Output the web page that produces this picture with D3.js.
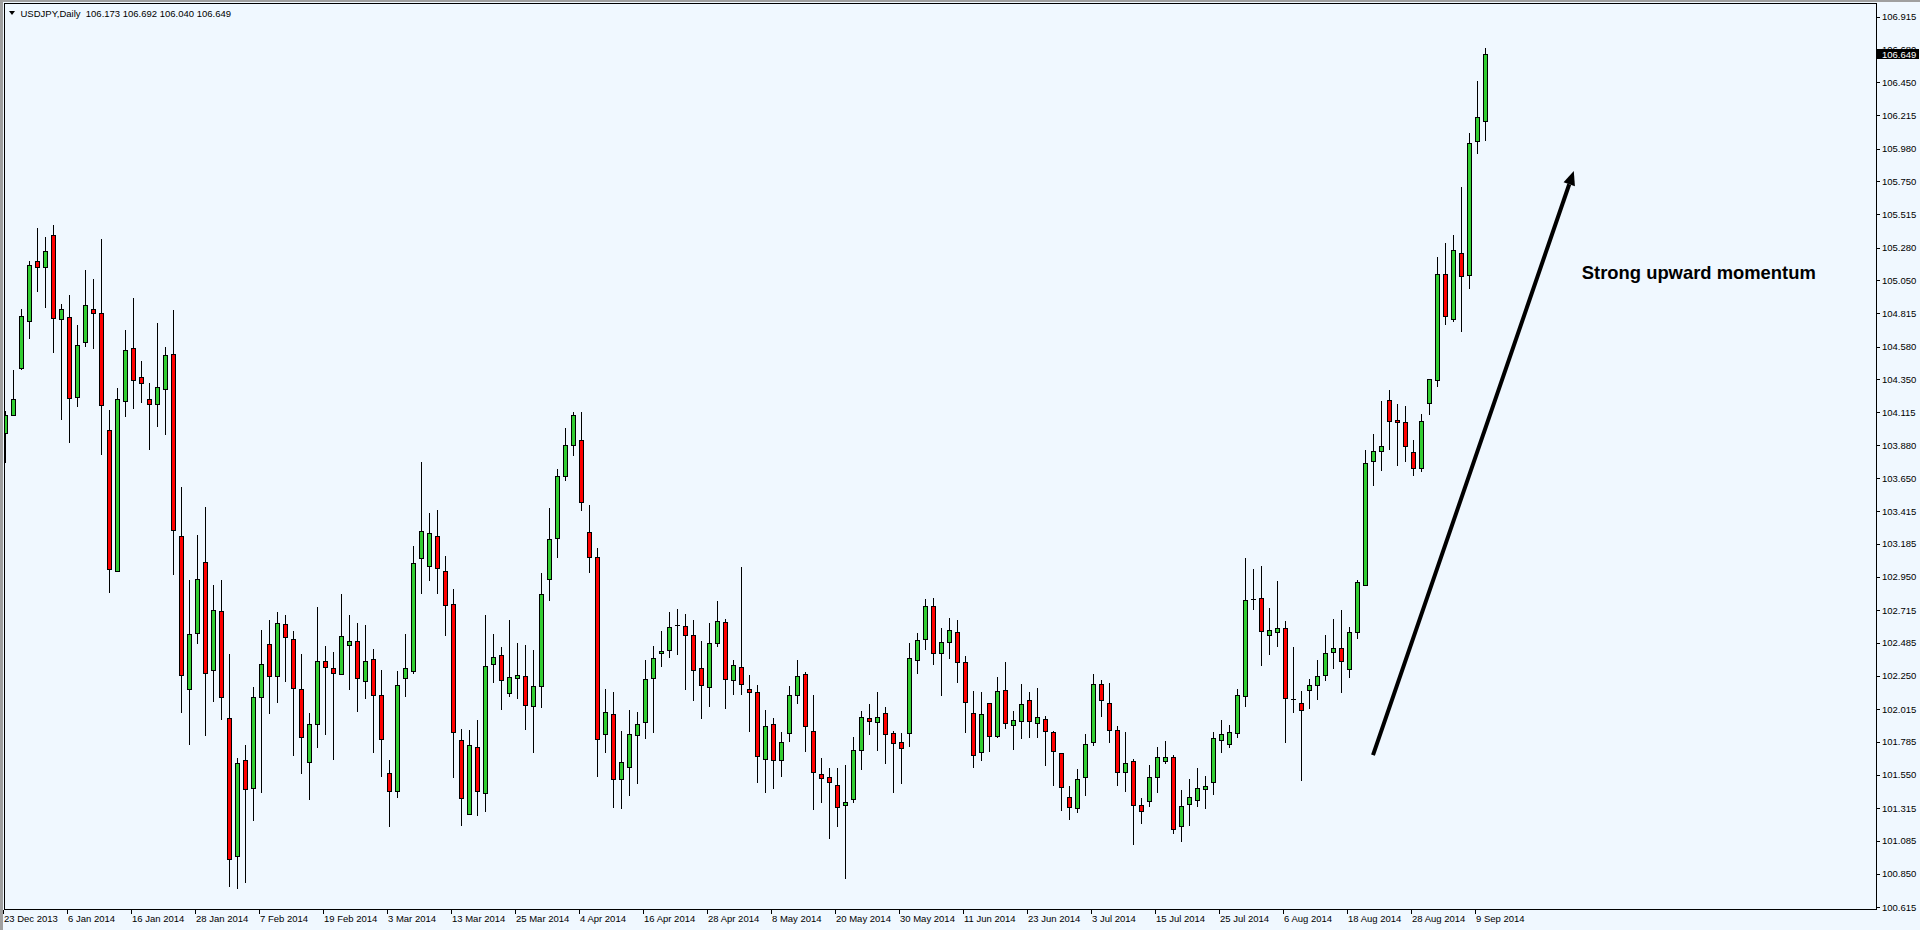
<!DOCTYPE html>
<html><head><meta charset="utf-8">
<script src="https://cdn.jsdelivr.net/npm/d3@7/dist/d3.min.js"></script>
<style>
html,body{margin:0;padding:0;background:#F0F8FF;overflow:hidden}
svg{display:block}
text{font-family:"Liberation Sans",Arial,sans-serif}
</style></head><body>
<svg id="c" width="1920" height="930"></svg>
<script>
// ---------- data ----------
const symbolTitle = "USDJPY,Daily";
const lastBarText = ["106.173", "106.692", "106.040", "106.649"];
const dateLabels = ["23 Dec 2013","6 Jan 2014","16 Jan 2014","28 Jan 2014","7 Feb 2014","19 Feb 2014","3 Mar 2014","13 Mar 2014","25 Mar 2014","4 Apr 2014","16 Apr 2014","28 Apr 2014","8 May 2014","20 May 2014","30 May 2014","11 Jun 2014","23 Jun 2014","3 Jul 2014","15 Jul 2014","25 Jul 2014","6 Aug 2014","18 Aug 2014","28 Aug 2014","9 Sep 2014"];
const dateLabelEvery = 8;
const priceTicks = [106.915,106.680,106.450,106.215,105.980,105.750,105.515,105.280,105.050,104.815,104.580,104.350,104.115,103.880,103.650,103.415,103.185,102.950,102.715,102.485,102.250,102.015,101.785,101.550,101.315,101.085,100.850,100.615];
const lastPrice = 106.649;

const open = [103.966,104.094,104.430,104.759,105.183,105.141,105.367,104.773,104.787,104.221,104.610,104.844,104.815,103.987,102.990,104.193,104.568,104.362,104.207,104.171,104.278,104.525,103.238,102.155,102.551,103.054,102.290,102.707,101.950,100.974,101.653,101.455,102.099,102.474,102.247,102.615,102.509,102.155,101.639,101.908,102.353,102.304,102.261,102.467,102.495,102.212,102.367,102.113,101.561,101.438,102.233,102.283,103.082,103.025,103.238,102.990,102.756,101.794,101.271,101.745,101.419,102.332,102.396,102.127,102.233,102.247,102.035,102.176,102.933,103.223,103.662,103.883,103.919,103.268,103.089,101.837,101.978,101.518,101.603,101.830,101.922,102.233,102.410,102.431,102.610,102.601,102.537,102.304,102.169,102.481,102.629,102.219,102.311,102.155,102.134,101.660,101.908,101.653,101.844,102.113,102.261,101.858,101.554,101.533,101.476,101.334,101.377,101.724,101.950,101.922,101.985,101.844,101.780,101.844,102.360,102.509,102.745,102.410,102.488,102.561,102.346,101.985,101.709,102.056,101.823,102.148,101.900,101.929,102.077,101.915,101.943,101.851,101.702,101.391,101.313,101.533,101.780,102.191,102.056,101.865,101.568,101.646,101.334,101.363,101.533,101.646,101.674,101.186,101.341,101.370,101.448,101.497,101.794,101.766,101.844,102.106,102.792,102.799,102.537,102.558,102.587,102.085,102.056,102.148,102.183,102.254,102.417,102.445,102.297,102.558,102.891,103.768,103.839,104.200,104.058,104.044,103.832,103.719,104.178,104.341,105.091,104.773,105.240,105.084,106.032,106.173];
const high = [104.124,104.414,104.846,105.185,105.417,105.353,105.438,104.879,104.942,104.730,105.119,105.056,105.339,104.129,104.285,104.695,104.921,104.476,104.320,104.745,104.575,104.836,103.586,102.928,103.247,103.445,102.893,102.928,102.405,101.667,101.761,102.169,102.573,102.643,102.700,102.679,102.566,102.405,101.985,102.735,102.459,102.417,102.827,102.679,102.622,102.608,102.438,102.290,101.653,102.283,102.544,103.166,103.761,103.400,103.422,103.096,102.863,101.872,101.865,101.936,102.679,102.544,102.452,102.643,102.481,102.467,102.431,102.976,103.436,103.712,104.004,104.117,104.117,103.459,103.155,102.155,102.134,101.858,102.007,101.992,102.360,102.459,102.566,102.700,102.721,102.686,102.643,102.495,102.622,102.778,102.650,102.360,103.018,102.254,102.183,102.007,101.950,101.851,102.176,102.360,102.275,102.113,101.667,101.596,101.596,101.617,101.816,101.999,102.049,102.134,102.028,101.858,101.844,102.481,102.551,102.792,102.801,102.589,102.660,102.645,102.391,102.141,102.134,102.056,102.240,102.346,101.999,102.191,102.134,102.162,101.964,101.858,101.702,101.469,101.589,101.837,102.261,102.219,102.198,101.893,101.851,101.660,101.384,101.617,101.745,101.787,101.688,101.441,101.518,101.596,101.540,101.851,101.936,101.900,102.155,103.082,103.004,103.025,102.728,102.919,102.636,102.452,102.141,102.226,102.360,102.537,102.650,102.714,102.594,102.926,103.846,103.959,104.197,104.271,104.171,104.157,103.917,104.101,104.348,105.212,105.310,105.367,105.709,106.089,106.457,106.692];
const low = [103.765,104.094,104.423,104.643,104.975,104.862,104.544,104.070,103.907,104.162,104.586,104.572,103.822,102.846,102.990,104.091,104.147,104.190,103.857,104.020,103.963,102.969,101.997,101.770,102.481,101.834,102.074,101.947,100.766,100.752,100.794,101.233,101.431,101.990,102.067,102.216,101.692,101.565,101.381,101.749,101.841,101.664,102.261,102.159,102.004,102.096,101.714,101.543,101.190,101.395,102.110,102.268,102.839,102.931,102.839,102.541,101.536,101.197,101.271,101.268,101.296,102.209,102.014,102.106,102.092,101.872,101.714,102.028,102.785,103.089,103.636,103.813,103.424,102.987,101.543,101.714,101.325,101.317,101.409,101.494,101.808,101.855,102.322,102.386,102.407,102.159,102.082,101.954,102.039,102.459,102.025,102.124,102.124,101.858,101.497,101.426,101.455,101.540,101.787,102.056,101.717,101.306,101.356,101.101,101.186,100.818,101.356,101.589,101.837,101.724,101.632,101.426,101.490,101.752,102.268,102.438,102.332,102.113,102.375,102.209,101.855,101.603,101.653,101.717,101.816,101.879,101.735,101.808,101.816,101.816,101.622,101.480,101.303,101.235,101.285,101.405,101.759,101.964,101.780,101.480,101.438,101.058,101.211,101.327,101.426,101.632,101.136,101.080,101.193,101.327,101.313,101.412,101.709,101.745,101.816,102.035,102.721,102.329,102.403,102.459,101.780,101.992,101.513,102.021,102.085,102.219,102.304,102.134,102.240,102.516,102.891,103.598,103.707,103.857,103.744,103.772,103.671,103.700,104.101,104.299,104.737,104.759,104.688,104.992,105.947,106.040];
const close = [104.094,104.207,104.794,105.155,105.141,105.254,104.780,104.844,104.214,104.589,104.872,104.815,104.164,103.004,104.207,104.553,104.341,104.320,104.171,104.292,104.518,103.280,102.254,102.544,102.933,102.268,102.714,102.102,100.952,101.632,101.448,102.099,102.332,102.247,102.622,102.523,102.162,101.816,101.908,102.353,102.311,102.268,102.530,102.495,102.233,102.353,102.116,101.801,101.438,102.183,102.304,103.047,103.273,103.259,103.011,102.749,101.851,101.384,101.759,101.434,102.318,102.382,102.219,102.240,102.254,102.042,102.176,102.827,103.216,103.662,103.883,104.096,103.480,103.089,101.801,101.992,101.518,101.639,101.837,101.908,102.226,102.375,102.424,102.594,102.610,102.537,102.290,102.183,102.481,102.636,102.226,102.325,102.191,102.134,101.681,101.893,101.653,101.780,102.113,102.247,101.893,101.568,101.526,101.497,101.320,101.356,101.724,101.957,101.929,101.957,101.837,101.773,101.738,102.375,102.502,102.742,102.410,102.488,102.575,102.346,102.063,101.688,101.978,101.823,102.141,101.915,101.936,102.049,101.929,101.957,101.858,101.717,101.462,101.320,101.518,101.766,102.191,102.077,101.865,101.568,101.632,101.334,101.292,101.533,101.674,101.674,101.165,101.327,101.391,101.455,101.469,101.808,101.837,101.851,102.113,102.785,102.792,102.566,102.573,102.587,102.092,102.085,102.007,102.183,102.247,102.410,102.445,102.353,102.558,102.912,103.754,103.839,103.874,104.051,104.044,103.874,103.719,104.051,104.348,105.091,104.794,105.261,105.077,106.018,106.202,106.649];

const annotationText = "Strong upward momentum";
const annotationAt = [197.1, 105.065];       // [bar index, price]
const arrowFrom = [171.0, 101.690];
const arrowTo = [196.1, 105.822];

// ---------- layout ----------
const W = 1920, H = 930;
const plot = {left: 4, top: 3, right: 1876, bottom: 909};
const bullColor = "#32CD32", bearColor = "#FF0000";

const svg = d3.select("#c");
const n = open.length;
const x = d3.scaleLinear().domain([0, n - 1]).range([5, 5 + 8 * (n - 1)]);
const y = d3.scaleLinear().domain([100.615, 106.915]).range([907, 16.5]);

svg.append("rect").attr("width", W).attr("height", H).attr("fill", "#F0F8FF");

svg.append("clipPath").attr("id", "pc").append("rect")
  .attr("x", plot.left + 1).attr("y", plot.top + 1)
  .attr("width", plot.right - plot.left - 1).attr("height", plot.bottom - plot.top - 1);

const g = svg.append("g").attr("clip-path", "url(#pc)").attr("shape-rendering", "crispEdges");
const idx = d3.range(n);

g.selectAll("line.wick").data(idx).enter().append("line")
  .attr("x1", i => x(i) + 0.5).attr("x2", i => x(i) + 0.5)
  .attr("y1", i => Math.round(y(high[i]))).attr("y2", i => Math.round(y(low[i])) + 1)
  .attr("stroke", "#000").attr("stroke-width", 1);

g.selectAll("rect.body").data(idx.filter(i => Math.round(y(open[i])) !== Math.round(y(close[i])))).enter().append("rect")
  .attr("x", i => x(i) - 1.5).attr("width", 4)
  .attr("y", i => Math.round(y(Math.max(open[i], close[i]))) + 0.5)
  .attr("height", i => Math.round(y(Math.min(open[i], close[i]))) - Math.round(y(Math.max(open[i], close[i]))))
  .attr("fill", i => close[i] > open[i] ? bullColor : bearColor)
  .attr("stroke", "#000").attr("stroke-width", 1);

g.selectAll("line.doji").data(idx.filter(i => Math.round(y(open[i])) === Math.round(y(close[i])))).enter().append("line")
  .attr("x1", i => x(i) - 2).attr("x2", i => x(i) + 3)
  .attr("y1", i => Math.round(y(open[i])) + 0.5).attr("y2", i => Math.round(y(open[i])) + 0.5)
  .attr("stroke", "#000").attr("stroke-width", 1);

const fr = svg.append("g").attr("shape-rendering", "crispEdges");
fr.append("rect").attr("x", 0).attr("y", 0).attr("width", 3).attr("height", H).attr("fill", "#A0A0A0");
fr.append("rect").attr("x", 0).attr("y", 0).attr("width", W).attr("height", 2).attr("fill", "#A0A0A0");
fr.append("rect").attr("x", plot.left + 0.5).attr("y", plot.top + 0.5)
  .attr("width", plot.right - plot.left).attr("height", plot.bottom - plot.top)
  .attr("fill", "none").attr("stroke", "#000").attr("stroke-width", 1);

const ra = svg.append("g");
ra.selectAll("line").data(priceTicks).enter().append("line")
  .attr("shape-rendering", "crispEdges")
  .attr("x1", plot.right + 1).attr("x2", plot.right + 4)
  .attr("y1", d => Math.round(y(d)) + 0.5).attr("y2", d => Math.round(y(d)) + 0.5)
  .attr("stroke", "#000");
ra.selectAll("text").data(priceTicks).enter().append("text")
  .attr("x", plot.right + 6).attr("y", d => y(d) + 3.5)
  .attr("font-size", "9.5px").attr("fill", "#000")
  .text(d => d.toFixed(3));

const ly = Math.round(y(lastPrice));
ra.append("rect").attr("x", plot.right + 1).attr("y", ly - 5).attr("width", 42).attr("height", 10)
  .attr("fill", "#000").attr("shape-rendering", "crispEdges");
ra.append("text").attr("x", plot.right + 6).attr("y", ly + 3.5)
  .attr("font-size", "9.5px").attr("fill", "#fff").text(lastPrice.toFixed(3));

const ba = svg.append("g");
const labelIdx = dateLabels.map((d, k) => k * dateLabelEvery);
ba.selectAll("line").data(labelIdx).enter().append("line")
  .attr("shape-rendering", "crispEdges")
  .attr("x1", i => x(i) - 1.5).attr("x2", i => x(i) - 1.5)
  .attr("y1", plot.bottom + 1).attr("y2", plot.bottom + 5)
  .attr("stroke", "#000");
ba.selectAll("text").data(dateLabels).enter().append("text")
  .attr("x", (d, k) => x(labelIdx[k]) - 1)
  .attr("y", plot.bottom + 13)
  .attr("font-size", "9.5px").attr("fill", "#000")
  .text(d => d);

svg.append("path").attr("d", "M9,11 L15,11 L12,15 Z").attr("fill", "#000");
svg.append("text").attr("x", 20.5).attr("y", 16.5).attr("font-size", "9.5px").attr("fill", "#000")
  .attr("xml:space", "preserve")
  .text(symbolTitle + "  " + lastBarText.join(" "));

const ax1 = x(arrowFrom[0]), ay1 = y(arrowFrom[1]), ax2 = x(arrowTo[0]), ay2 = y(arrowTo[1]);
const ang = Math.atan2(ay2 - ay1, ax2 - ax1);
const headLen = 14, headW = 6;
const bx = ax2 - headLen * Math.cos(ang), by = ay2 - headLen * Math.sin(ang);
svg.append("line").attr("x1", ax1).attr("y1", ay1).attr("x2", bx).attr("y2", by)
  .attr("stroke", "#000").attr("stroke-width", 4);
svg.append("path")
  .attr("d", `M${ax2},${ay2} L${bx + headW * Math.sin(ang)},${by - headW * Math.cos(ang)} L${bx - headW * Math.sin(ang)},${by + headW * Math.cos(ang)} Z`)
  .attr("fill", "#000");

svg.append("text").attr("x", x(annotationAt[0])).attr("y", y(annotationAt[1]) + 1)
  .attr("font-size", "18.4px").attr("font-weight", "bold").attr("fill", "#000")
  .text(annotationText);
</script>
</body></html>
